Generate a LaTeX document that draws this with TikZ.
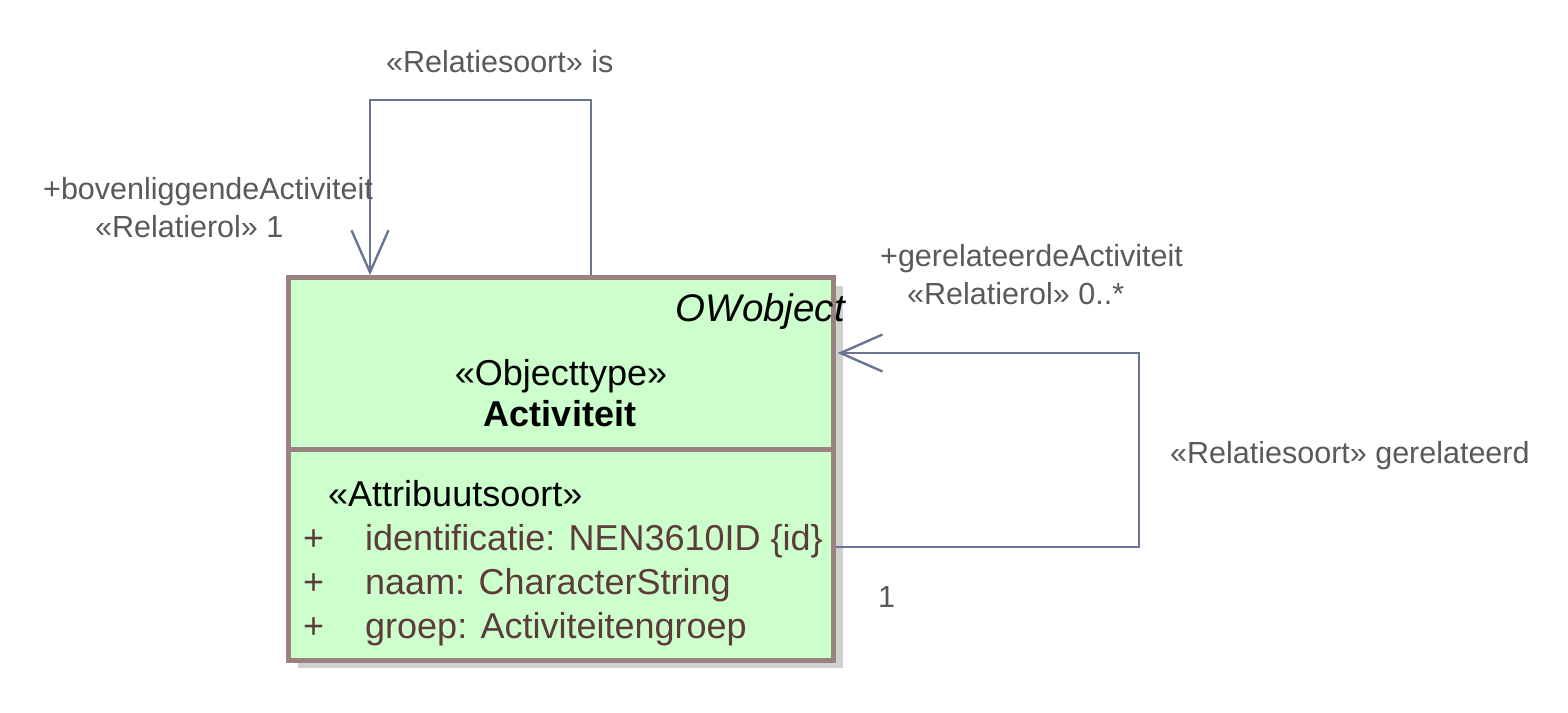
\documentclass[tikz,border=0pt]{standalone}
\usepackage{fontspec}
\setmainfont{Liberation Sans}
\usetikzlibrary{arrows.meta}
\definecolor{lblgray}{HTML}{595959}
\definecolor{conncol}{HTML}{697592}
\definecolor{bordercol}{HTML}{9A8280}
\definecolor{attrcol}{HTML}{5E3B3B}
\definecolor{boxfill}{HTML}{CCFFCC}
\definecolor{shadowcol}{HTML}{D0D0D0}
\tikzset{
  conn/.style={draw=conncol, line width=2.4pt, line join=miter},
  openhead/.style={-{Straight Barb[length=42pt,width=37pt,line width=2.4pt]}},
  lbl/.style={inner sep=0pt, anchor=base west, text=lblgray, font=\fontsize{30.5}{34}\selectfont},
  boxtxt/.style={inner sep=0pt, text=black, font=\fontsize{36}{40}\selectfont},
  attr/.style={inner sep=0pt, anchor=base west, text=attrcol, font=\fontsize{36}{40}\selectfont},
  classbox/.style={draw=bordercol, line width=5pt, fill=boxfill, minimum width=545pt, minimum height=382.5pt, inner sep=0pt},
  shadowbox/.style={fill=shadowcol, draw=none, minimum width=545pt, minimum height=382.5pt, inner sep=0pt}
}
\begin{document}
\begin{tikzpicture}[x=1pt,y=-1pt]
\useasboundingbox (0,0) rectangle (1568,712);
% shadow and class box
\node[shadowbox] (shadow) at (570,477) {};
\node[classbox] (box) at (560.5,469) {};
\coordinate (div) at (0,449);
\draw[draw=bordercol, line width=5pt] (box.west |- div) -- (box.east |- div);
% box texts
\node[boxtxt, anchor=base east, font=\fontsize{38.5}{42}\selectfont\itshape] (stereo) at (845,321) {OWobject};
\node[boxtxt, anchor=base] (otype) at (561,385) {«Objecttype»};
\node[boxtxt, anchor=base, font=\fontsize{36}{40}\selectfont\bfseries] (name) at (560,426) {Activiteit};
\node[boxtxt, anchor=base west] (atype) at (328,506) {«Attribuutsoort»};
\node[attr] (p1) at (303,550) {+};
\node[attr] (a1) at (365,550) {identificatie: NEN3610ID \{id\}};
\node[attr] (p2) at (303,594) {+};
\node[attr] (a2) at (365,594) {naam: CharacterString};
\node[attr] (p3) at (303,638) {+};
\node[attr] (a3) at (365,638) {groep: Activiteitengroep};
% top self-association
\coordinate (isL) at (370,100);
\coordinate (isR) at (591,100);
\draw[conn, openhead] (box.north -| isR) -- (isR) -- (isL) -- (box.north -| isL);
% right self-association
\coordinate (gT) at (1139,353);
\coordinate (gB) at (1139,547);
\draw[conn, openhead] (box.east |- gB) -- (gB) -- (gT) -- ([xshift=2pt]box.east |- gT);
% labels
\node[lbl] (lis) at (386,72) {«Relatiesoort» is};
\node[lbl] (lbov) at (43,199) {+bovenliggendeActiviteit};
\node[lbl] (lrol1) at (95,237) {«Relatierol» 1};
\node[lbl] (lger) at (880,266) {+gerelateerdeActiviteit};
\node[lbl] (lrol2) at (907,304) {«Relatierol» 0..*};
\node[lbl] (lgerel) at (1170,463) {«Relatiesoort» gerelateerd};
\node[lbl] (lone) at (878,607) {1};
\end{tikzpicture}
\end{document}
